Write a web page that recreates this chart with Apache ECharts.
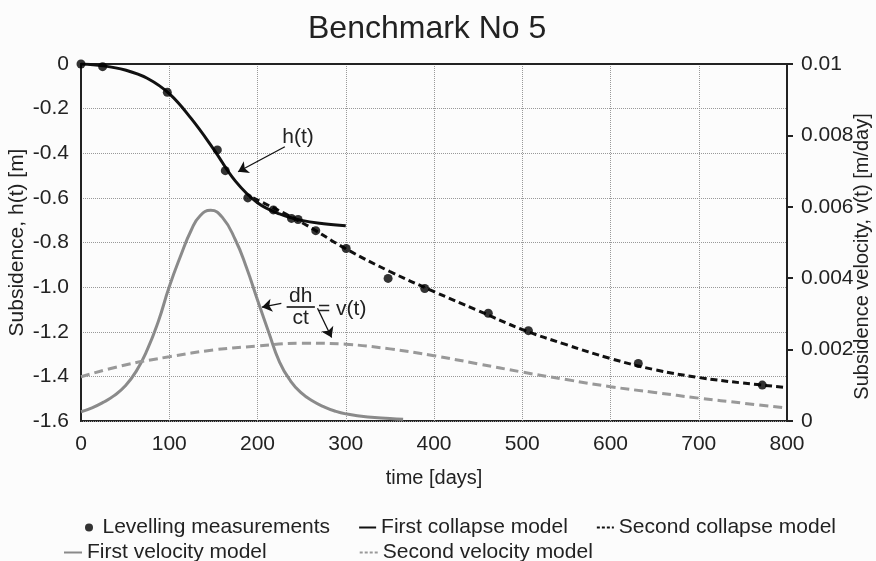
<!DOCTYPE html>
<html>
<head>
<meta charset="utf-8">
<script src="https://cdn.jsdelivr.net/npm/echarts@6/dist/echarts.min.js"></script>
<style>html,body{margin:0;padding:0;background:#fcfcfc;}#c{width:876px;height:561px;}</style>
</head>
<body>
<div id="c"></div>
<script>
// ---- data ----
var measDays = [0, 24.5, 97.8, 154.5, 163.5, 189, 218, 238.5, 246, 266, 300.5, 348, 389.5, 461.5, 507, 631.5, 772];
var measH = [0, -0.012, -0.127, -0.385, -0.478, -0.6, -0.654, -0.692, -0.697, -0.747, -0.827, -0.961, -1.006, -1.117, -1.195, -1.342, -1.439];

var col1Days = [0, 25, 50, 75, 100, 125, 150, 175, 200, 225, 250, 275, 300];
var col1H = [0, -0.008, -0.027, -0.064, -0.133, -0.245, -0.38, -0.525, -0.622, -0.672, -0.701, -0.716, -0.725];

var col2Days = [195, 250, 300, 350, 400, 450, 500, 550, 600, 650, 700, 750, 800];
var col2H = [-0.6, -0.71, -0.828, -0.93, -1.02, -1.105, -1.19, -1.258, -1.32, -1.37, -1.405, -1.43, -1.45];

var vel1Days = [0, 12.5, 25, 37.5, 50, 62.5, 75, 87.5, 100, 112.5, 125, 135, 147, 160, 175, 187.5, 200, 212.5, 225, 237.5, 250, 262.5, 275, 287.5, 300, 325, 350, 365];
var vel1V = [0.00026, 0.00037, 0.00052, 0.00071, 0.00098, 0.00139, 0.00199, 0.00278, 0.00376, 0.0046, 0.00535, 0.00575, 0.0059, 0.00571, 0.00507, 0.0043, 0.00339, 0.0025, 0.00165, 0.00112, 0.00078, 0.00056, 0.0004, 0.00028, 0.0002, 0.00011, 0.00007, 0.00005];

var vel2Days = [0, 50, 100, 150, 200, 250, 300, 350, 400, 450, 500, 550, 600, 650, 700, 750, 800];
var vel2V = [0.00124, 0.00157, 0.0018, 0.00199, 0.0021, 0.00218, 0.00215, 0.00202, 0.00183, 0.0016, 0.00137, 0.00116, 0.00096, 0.0008, 0.00064, 0.0005, 0.00036];

var leftTickLabels = ['0', '-0.2', '-0.4', '-0.6', '-0.8', '-1.0', '-1.2', '-1.4', '-1.6'];
var rightTickLabels = ['0', '0.002', '0.004', '0.006', '0.008', '0.01'];

// annotation anchors (data space: [days, h])
var hArrow = [[231, -0.371], [178, -0.483]];
var dvArrowLeft = [[227, -1.073], [205, -1.09]];
var dvArrowDown = [[268, -1.095], [284, -1.226]];
var fracBar = [[233, -1.089], [265, -1.089]];
var hLabelPos = [246, -0.327];
var dhPos = [249, -1.04];
var ctPos = [249, -1.138];
var eqPos = [296, -1.098];

function pairs(xs, ys) { return xs.map(function (x, i) { return [x, ys[i]]; }); }

var FONT = '"Liberation Sans", Arial, sans-serif';
var TXT = '#222';
var HIDE_SYM = { color: 'rgba(0,0,0,0)', borderColor: 'rgba(0,0,0,0)', borderWidth: 0 };

var chart = echarts.init(document.getElementById('c'), null, { renderer: 'canvas' });
var option = {
  backgroundColor: '#fcfcfc',
  animation: false,
  textStyle: { fontFamily: FONT, color: TXT },
  title: {
    text: 'Benchmark No 5', left: 303, top: 8,
    textStyle: { fontFamily: FONT, fontSize: 32, fontWeight: 'normal', color: TXT }
  },
  grid: { left: 81, right: 89, top: 64, bottom: 140, show: true, borderColor: '#222', borderWidth: 2, backgroundColor: 'transparent', outerBoundsMode: 'none', containLabel: false },
  legend: [
    {
      left: 80, top: 512, itemGap: 28, itemWidth: 17, itemHeight: 8,
      textStyle: { fontFamily: FONT, fontSize: 21, color: TXT },
      data: [
        { name: 'Levelling measurements' },
        { name: 'First collapse model', itemStyle: HIDE_SYM },
        { name: 'Second collapse model', itemStyle: HIDE_SYM, lineStyle: { type: [3, 2] } }
      ]
    },
    {
      left: 58, top: 537, itemGap: 92, itemWidth: 18, itemHeight: 8,
      textStyle: { fontFamily: FONT, fontSize: 21, color: TXT },
      data: [
        { name: 'First velocity model', itemStyle: HIDE_SYM },
        { name: 'Second velocity model', itemStyle: HIDE_SYM, lineStyle: { type: [3, 2] } }
      ]
    }
  ],
  xAxis: {
    type: 'value', min: 0, max: 800, interval: 100,
    name: 'time [days]', nameLocation: 'middle', nameGap: 47, nameMoveOverlap: false,
    nameTextStyle: { fontFamily: FONT, fontSize: 20, color: TXT },
    axisLine: { show: true, lineStyle: { color: '#222', width: 2 } },
    axisTick: { show: false },
    axisLabel: { fontFamily: FONT, fontSize: 21, color: TXT, margin: 13 },
    splitLine: { show: true, lineStyle: { color: '#999', type: 'dotted', width: 1 } }
  },
  yAxis: [
    {
      type: 'value', min: -1.6, max: 0, interval: 0.2, position: 'left',
      name: 'Subsidence, h(t) [m]', nameLocation: 'middle', nameGap: 53, nameMoveOverlap: false,
      nameTextStyle: { fontFamily: FONT, fontSize: 21, color: TXT },
      axisLine: { show: true, lineStyle: { color: '#222', width: 2 } },
      axisTick: { show: false },
      axisLabel: {
        fontFamily: FONT, fontSize: 21, color: TXT, margin: 12,
        formatter: function (v) { var i = Math.round(-v / 0.2); return leftTickLabels[i]; }
      },
      splitLine: { show: true, lineStyle: { color: '#999', type: 'dotted', width: 1 } }
    },
    {
      type: 'value', min: 0, max: 0.01, interval: 0.002, position: 'right',
      name: 'Subsidence velocity, v(t) [m/day]', nameLocation: 'middle', nameGap: 65, nameMoveOverlap: false,
      nameTextStyle: { fontFamily: FONT, fontSize: 20, color: TXT, padding: [0, 28, 0, 0] },
      axisLine: { show: true, lineStyle: { color: '#222', width: 2 } },
      axisTick: { show: true, inside: false, length: 6, lineStyle: { color: '#222', width: 2 } },
      axisLabel: {
        fontFamily: FONT, fontSize: 21, color: TXT, margin: 14,
        formatter: function (v) { var i = Math.round(v / 0.002); return rightTickLabels[i]; }
      },
      splitLine: { show: false }
    }
  ],
  series: [
    {
      name: 'First velocity model', type: 'line', yAxisIndex: 1, smooth: 0.5, symbol: 'none',
      lineStyle: { color: '#8a8a8a', width: 3 }, itemStyle: { color: '#8a8a8a' },
      data: pairs(vel1Days, vel1V), z: 2
    },
    {
      name: 'Second velocity model', type: 'line', yAxisIndex: 1, smooth: 0.4, symbol: 'none',
      lineStyle: { color: '#999', width: 3, type: [9, 5] }, itemStyle: { color: '#999' },
      data: pairs(vel2Days, vel2V), z: 2
    },
    {
      name: 'First collapse model', type: 'line', yAxisIndex: 0, smooth: 0.4, symbol: 'none',
      lineStyle: { color: '#111', width: 3 }, itemStyle: { color: '#111' },
      data: pairs(col1Days, col1H), z: 3,
      markLine: {
        silent: true, animation: false, label: { show: false },
        lineStyle: { color: '#111', width: 1.3, type: 'solid' },
        symbol: ['none', 'arrow'], symbolSize: 10,
        data: [
          [{ coord: hArrow[0] }, { coord: hArrow[1] }],
          [{ coord: dvArrowLeft[0] }, { coord: dvArrowLeft[1] }],
          [{ coord: dvArrowDown[0] }, { coord: dvArrowDown[1] }]
        ]
      },
      markPoint: {
        silent: true, animation: false, symbol: 'circle', symbolSize: 0,
        itemStyle: { color: 'transparent' },
        label: { show: true, position: 'inside', color: TXT, fontFamily: FONT, fontSize: 21, formatter: function (p) { return p.name; } },
        data: [
          { name: 'h(t)', coord: hLabelPos },
          { name: 'dh', coord: dhPos },
          { name: 'ct', coord: ctPos },
          { name: '= v(t)', coord: eqPos }
        ]
      }
    },
    {
      name: 'Second collapse model', type: 'line', yAxisIndex: 0, smooth: 0.4, symbol: 'none',
      lineStyle: { color: '#111', width: 3, type: [7, 4] }, itemStyle: { color: '#111' },
      data: pairs(col2Days, col2H), z: 3,
      markLine: {
        silent: true, animation: false, label: { show: false },
        lineStyle: { color: '#111', width: 1.6, type: 'solid' },
        symbol: ['none', 'none'],
        data: [[{ coord: fracBar[0] }, { coord: fracBar[1] }]]
      }
    },
    {
      name: 'Levelling measurements', type: 'scatter', yAxisIndex: 0, symbol: 'circle', symbolSize: 9,
      itemStyle: { color: '#000' },
      data: pairs(measDays, measH), z: 4
    }
  ]
};
chart.setOption(option);
</script>
</body>
</html>
